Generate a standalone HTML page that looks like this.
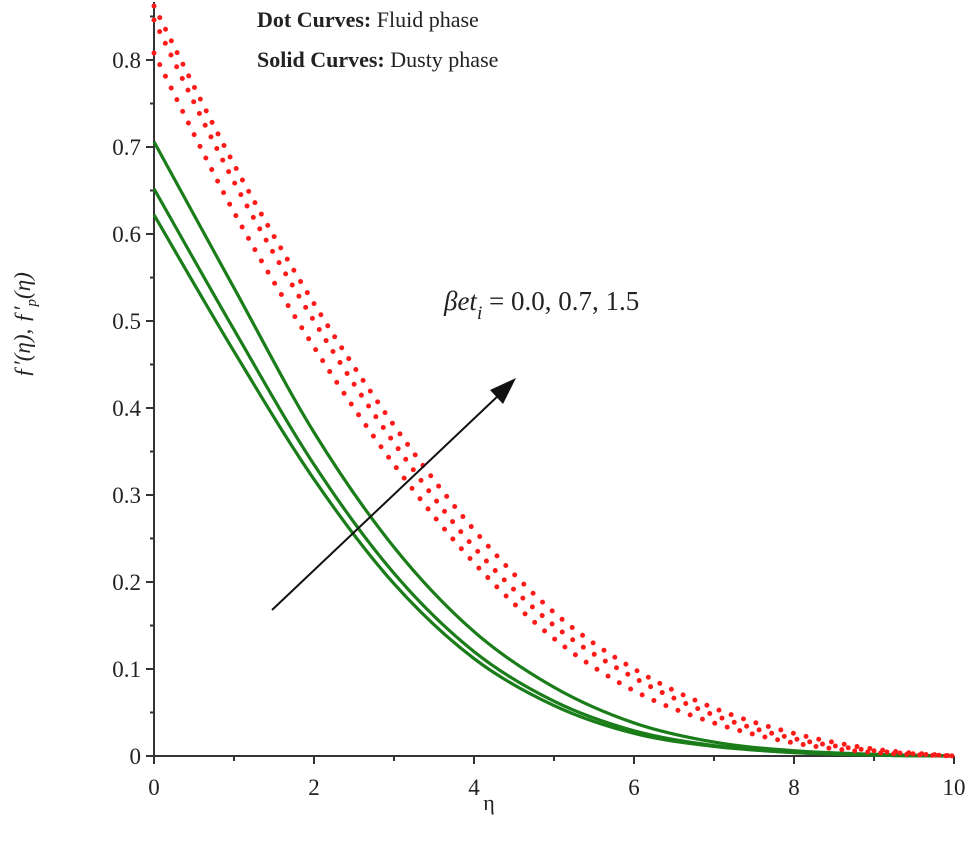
<!DOCTYPE html>
<html><head><meta charset="utf-8"><style>
html,body{margin:0;padding:0;background:#fff;}
svg{display:block;}
text{font-family:"Liberation Serif",serif;fill:#222;}
</style></head><body>
<svg id="chart" width="975" height="843" viewBox="0 0 975 843">
<g id="axes"></g>
<g id="series"></g>
<g>
<text x="257" y="27" font-size="22"><tspan font-weight="bold">Dot Curves:</tspan> Fluid phase</text>
<text x="257" y="67" font-size="22"><tspan font-weight="bold">Solid Curves:</tspan> Dusty phase</text>
</g>
<g>
<line x1="272" y1="610" x2="500" y2="394" stroke="#111" stroke-width="2"/>
<polygon points="516,378 490,390 503,404" fill="#111"/>
<text x="444" y="310" font-size="27"><tspan font-style="italic">βet</tspan><tspan font-style="italic" font-size="19" dy="9">i</tspan><tspan dy="-9"> = 0.0, 0.7, 1.5</tspan></text>
</g>
<text x="489" y="810" font-size="22" text-anchor="middle">η</text>
<text transform="translate(30,325) rotate(-90)" font-size="23" font-style="italic" text-anchor="middle">ƒ′(η), ƒ′<tspan font-size="15" dy="6">p</tspan><tspan dy="-6">(η)</tspan></text>
</svg>
<script>
const etaValues=[0,1,2,3,4,5,6,7,8,9,10];
const fluidBeta00=[0.808,0.625,0.47,0.335,0.222,0.135,0.075,0.038,0.015,0.004,0];
const fluidBeta07=[0.846,0.66,0.5,0.36,0.24,0.15,0.09,0.047,0.02,0.006,0];
const fluidBeta15=[0.862,0.68,0.52,0.38,0.26,0.165,0.1,0.055,0.026,0.008,0];
const dustyBeta00=[0.622,0.465,0.318,0.198,0.112,0.058,0.026,0.011,0.004,0.001,0];
const dustyBeta07=[0.652,0.49,0.335,0.21,0.12,0.063,0.029,0.012,0.004,0.001,0];
const dustyBeta15=[0.706,0.538,0.372,0.24,0.143,0.079,0.038,0.016,0.006,0.002,0];
const xTicks=[0,2,4,6,8,10];
const yTicks=[0,0.1,0.2,0.3,0.4,0.5,0.6,0.7,0.8];

const NS="http://www.w3.org/2000/svg";
const X=v=>154+80*v, Y=v=>756-870*v;
function mk(t,a,p){const e=document.createElementNS(NS,t);for(const k in a)e.setAttribute(k,a[k]);p.appendChild(e);return e;}
const axes=document.getElementById('axes'), series=document.getElementById('series');
let e=mk('line',{x1:X(0),y1:Y(0),x2:X(10),y2:Y(0),stroke:'#333','stroke-width':2},axes);


e=mk('line',{x1:X(0),y1:Y(0),x2:X(0),y2:2,stroke:'#333','stroke-width':2},axes);


xTicks.forEach(t=>{
  mk('line',{x1:X(t),y1:Y(0),x2:X(t),y2:Y(0)+8,stroke:'#333','stroke-width':2},axes);
  if(t<10) mk('line',{x1:X(t+1),y1:Y(0),x2:X(t+1),y2:Y(0)+5,stroke:'#333','stroke-width':2},axes);
  const l=mk('text',{x:X(t),y:Y(0)+39,'font-size':23,'text-anchor':'middle'},axes);
  l.textContent=String(t);
  
  
});
yTicks.forEach(t=>{
  mk('line',{x1:X(0)-8,y1:Y(t),x2:X(0),y2:Y(t),stroke:'#333','stroke-width':2},axes);
  mk('line',{x1:X(0)-4,y1:Y(t+0.05),x2:X(0),y2:Y(t+0.05),stroke:'#333','stroke-width':2},axes);
  const l=mk('text',{x:X(0)-13,y:Y(t)+8,'font-size':23,'text-anchor':'end'},axes);
  l.textContent=t===0?'0':t.toFixed(1);
  
  
});
function pts(vals){return vals.map((v,i)=>[X(etaValues[i]),Y(v)]);}
function pathD(p){let d=`M${p[0][0]},${p[0][1]}`;for(let i=0;i<p.length-1;i++){const p0=p[Math.max(0,i-1)],p1=p[i],p2=p[i+1],p3=p[Math.min(p.length-1,i+2)];
 d+=` C${p1[0]+(p2[0]-p0[0])/6},${p1[1]+(p2[1]-p0[1])/6} ${p2[0]-(p3[0]-p1[0])/6},${p2[1]-(p3[1]-p1[1])/6} ${p2[0]},${p2[1]}`;}return d;}
[[dustyBeta00,'dusty-curve-beta-0-0'],[dustyBeta07,'dusty-curve-beta-0-7'],[dustyBeta15,'dusty-curve-beta-1-5']].forEach(([v,n])=>{
  const p=mk('path',{d:pathD(pts(v)),fill:'none',stroke:'#1a7d1a','stroke-width':3.2},series);
  
  
});
[[fluidBeta00,'fluid-curve-beta-0-0'],[fluidBeta07,'fluid-curve-beta-0-7'],[fluidBeta15,'fluid-curve-beta-1-5']].forEach(([v,n])=>{
  const p=mk('path',{d:pathD(pts(v)),fill:'none',stroke:'#ff1a1a','stroke-width':5,'stroke-linecap':'round','stroke-dasharray':'0 13'},series);
  
  
});
</script>
</body></html>
